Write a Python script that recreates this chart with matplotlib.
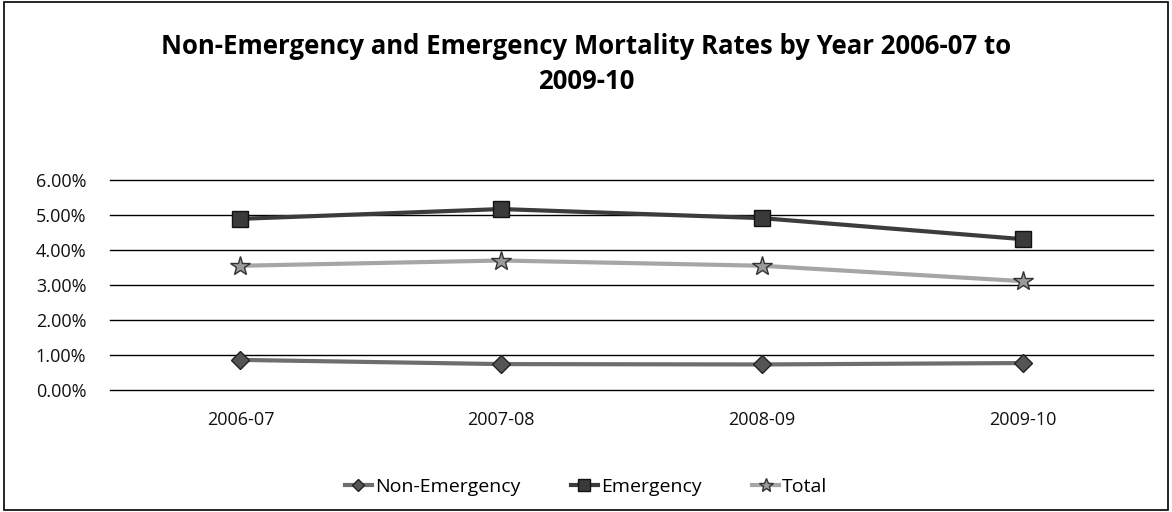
import matplotlib
matplotlib.use("Agg")
import matplotlib.pyplot as plt
from matplotlib.ticker import FuncFormatter

plt.rcParams['font.family'] = ['Open Sans', 'DejaVu Sans']

years = ["2006-07", "2007-08", "2008-09", "2009-10"]
non_emergency = [0.86, 0.74, 0.73, 0.77]
emergency = [4.89, 5.17, 4.91, 4.31]
total = [3.55, 3.70, 3.55, 3.11]

fig = plt.figure(figsize=(11.72, 5.12), dpi=100)
ax = fig.add_axes([110/1172, 1 - 390/512, 1043/1172, 210/512])

x = range(len(years))
ax.plot(x, non_emergency, color="#6e6e6e", lw=3, marker="D", ms=9,
        mfc="#555555", mec="#222222", label="Non-Emergency")
ax.plot(x, emergency, color="#3c3c3c", lw=3, marker="s", ms=12,
        mfc="#3a3a3a", mec="#111111", label="Emergency")
ax.plot(x, total, color="#a6a6a6", lw=3, marker="*", ms=15,
        mfc="#9a9a9a", mec="#333333", label="Total")

ax.set_xlim(-0.5, 3.5)
ax.set_ylim(0, 6)
ax.set_yticks(range(7))
ax.yaxis.set_major_formatter(FuncFormatter(lambda v, p: "%.2f%%" % v))
ax.set_xticks(list(x))
ax.set_xticklabels(years)
for v in range(7):
    ax.axhline(v, color="black", lw=1, zorder=0, clip_on=False)
for s in ax.spines.values():
    s.set_visible(False)
ax.tick_params(length=0, labelsize=13, colors="#111111")
ax.tick_params(axis="x", pad=15)
ax.tick_params(axis="y", pad=17)

fig.suptitle("Non-Emergency and Emergency Mortality Rates by Year 2006-07 to\n2009-10",
             fontsize=18.5, fontweight="bold", y=1 - 33/512, va="top", linespacing=1.38)

fig.legend(loc="center", bbox_to_anchor=(0.5, 1 - 487/512), ncol=3, frameon=False,
           fontsize=14, handlelength=1.4, columnspacing=2.6, handletextpad=0.15,
           markerscale=0.7)

fig.patches.append(plt.Rectangle((0.003, 0.003), 0.994, 0.994, transform=fig.transFigure,
                                 fill=False, ec="black", lw=1.2))

fig.savefig("out.png", dpi=100)
